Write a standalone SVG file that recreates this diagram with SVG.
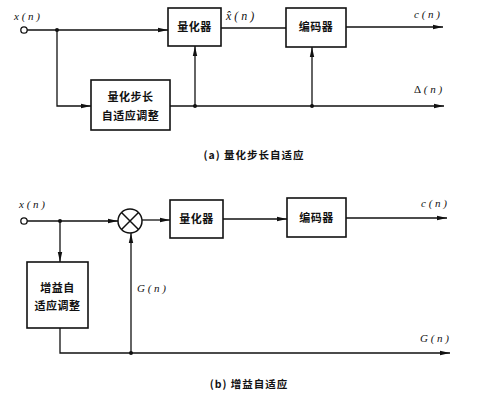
<svg xmlns="http://www.w3.org/2000/svg" width="498" height="406" viewBox="0 0 498 406">
<style>
.box{fill:#fff;stroke:#111;stroke-width:1.6}
.ln{fill:none;stroke:#111;stroke-width:1.3}
.cn{font-family:"Noto Sans CJK SC","Noto Sans CJK JP",sans-serif;font-weight:bold;font-size:11px;fill:#111;text-anchor:middle;letter-spacing:0.5px}
.cap{font-family:"Noto Sans CJK SC",sans-serif;font-weight:bold;font-size:10.5px;fill:#111;text-anchor:middle;letter-spacing:1px}
.lb{font-family:"Liberation Serif",serif;font-style:italic;font-size:11px;fill:#111}
.dot{fill:#111}
</style>
<defs>
<marker id="ar" viewBox="0 0 10 6" refX="10" refY="3" markerWidth="10" markerHeight="6" markerUnits="userSpaceOnUse" orient="auto">
<path d="M0,0.8 L10,3 L0,5.2 Z" fill="#111"/>
</marker>
</defs>
<g id="connectors">
<!-- (a) -->
<line class="ln" x1="27" y1="30" x2="168" y2="30" marker-end="url(#ar)"/>
<polyline class="ln" points="57,30 57,106 91,106" marker-end="url(#ar)"/>
<line class="ln" x1="170" y1="106" x2="444" y2="106" marker-end="url(#ar)"/>
<line class="ln" x1="195" y1="106" x2="195" y2="46" marker-end="url(#ar)"/>
<line class="ln" x1="221" y1="28" x2="286" y2="28"/>
<line class="ln" x1="346" y1="27" x2="443" y2="27" marker-end="url(#ar)"/>
<line class="ln" x1="312" y1="106" x2="312" y2="47" marker-end="url(#ar)"/>
<circle class="dot" cx="57" cy="30" r="2"/>
<circle class="dot" cx="195" cy="106" r="2"/>
<circle class="dot" cx="312" cy="106" r="2"/>
<!-- (b) -->
<line class="ln" x1="27" y1="221" x2="118" y2="221" marker-end="url(#ar)"/>
<line class="ln" x1="142" y1="220" x2="170" y2="220" marker-end="url(#ar)"/>
<line class="ln" x1="223" y1="219" x2="287" y2="219" marker-end="url(#ar)"/>
<line class="ln" x1="346" y1="218" x2="447" y2="218" marker-end="url(#ar)"/>
<line class="ln" x1="60" y1="221" x2="60" y2="262" marker-end="url(#ar)"/>
<polyline class="ln" points="60,328 60,353 450,353" marker-end="url(#ar)"/>
<line class="ln" x1="131" y1="353" x2="131" y2="233" marker-end="url(#ar)"/>
<circle class="dot" cx="60" cy="221" r="2"/>
<circle class="dot" cx="131" cy="353" r="2"/>
</g>
<g id="input-a"><circle cx="24" cy="30" r="3.2" fill="#fff" stroke="#111" stroke-width="1.3"/></g>
<g id="quantizer-a"><rect class="box" x="168" y="8" width="53" height="38"/><text class="cn" x="194.5" y="31">量化器</text></g>
<g id="step-adapt"><rect class="box" x="91" y="80" width="79" height="50"/><text class="cn" x="130.5" y="101">量化步长</text><text class="cn" x="130.5" y="120">自适应调整</text></g>
<g id="encoder-a"><rect class="box" x="286" y="8" width="60" height="39"/><text class="cn" x="316" y="31">编码器</text></g>
<g id="labels-a">
<text class="lb" x="14" y="20">x ( n )</text>
<text class="lb" x="226" y="20" style="font-size:12px">x̂ ( n )</text>
<text class="lb" x="414" y="18">c ( n )</text>
<text class="lb" x="414" y="93"><tspan font-style="normal">Δ</tspan> ( n )</text>
<text class="cap" x="254" y="159">(a) 量化步长自适应</text>
</g>
<g id="input-b"><circle cx="24" cy="221" r="3.2" fill="#fff" stroke="#111" stroke-width="1.3"/></g>
<g id="multiplier"><circle cx="130" cy="221" r="12" fill="#fff" stroke="#111" stroke-width="1.5"/><path class="ln" d="M121.5,212.5 L138.5,229.5 M138.5,212.5 L121.5,229.5" style="stroke-width:1.5"/></g>
<g id="quantizer-b"><rect class="box" x="170" y="200" width="53" height="38"/><text class="cn" x="196.5" y="223">量化器</text></g>
<g id="encoder-b"><rect class="box" x="287" y="198" width="59" height="39"/><text class="cn" x="316.5" y="222">编码器</text></g>
<g id="gain-adapt"><rect class="box" x="27" y="262" width="61" height="66"/><text class="cn" x="57.5" y="292">增益自</text><text class="cn" x="57.5" y="310">适应调整</text></g>
<g id="labels-b">
<text class="lb" x="19" y="208">x ( n )</text>
<text class="lb" x="421" y="207">c ( n )</text>
<text class="lb" x="137" y="292">G ( n )</text>
<text class="lb" x="420" y="342">G ( n )</text>
<text class="cap" x="249" y="388">(b) 增益自适应</text>
</g>
</svg>
